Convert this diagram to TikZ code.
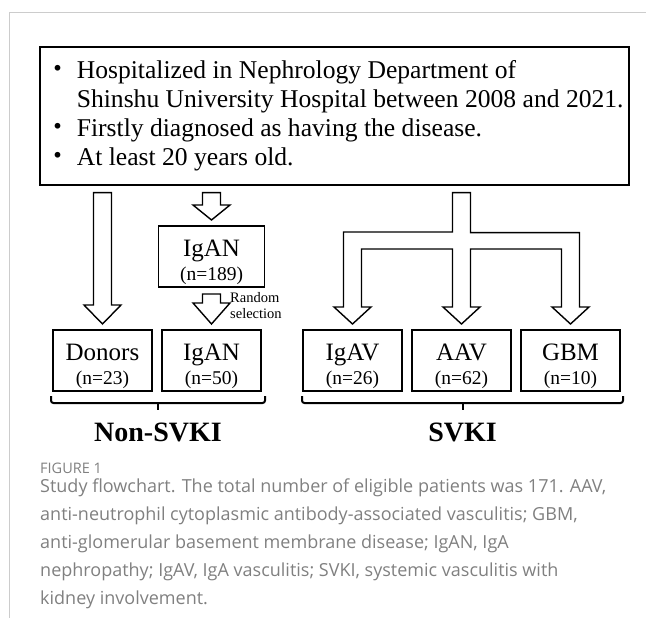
\documentclass[tikz,border=0pt]{standalone}
\usepackage{fontspec}
\setmainfont{Liberation Serif}
\newfontfamily\cjkfont{Noto Sans CJK JP}
\newfontfamily\capfont{Open Sans}
\usetikzlibrary{positioning,calc}
\definecolor{capgray}{HTML}{808080}
\definecolor{framegray}{HTML}{CCCCCC}
\newcommand{\dotmark}{\makebox[25pt][c]{\fontsize{27}{27}\cjkfont ・}}
\newcommand{\bigname}[1]{{\fontsize{25}{25}\selectfont\rule{0pt}{28pt}#1}}
\newcommand{\fatarrow}[3][19]{%
  \draw[hollow] ($(#2)+(-9,7)$) -- ($(#3)+(-9,-6-#1)$) -- ++(-9.5,0)
    -- ($(#3)+(0,-6)$) -- ($(#3)+(18.5,-6-#1)$) -- ++(-9.5,0)
    -- ($(#2)+(9,7)$) -- cycle;}
\tikzset{
    frame/.style={
            draw=framegray,
            line width=1pt
        },
    criteria/.style={
            rectangle,
            draw,
            line width=1.3pt,
            minimum width=589pt,
            minimum height=138pt,
            inner sep=0pt,
            align=left,
            font=\fontsize{25.6}{29}\selectfont
        },
    block/.style={
            rectangle,
            draw,
            line width=1.3pt,
            minimum width=99pt,
            minimum height=61pt,
            inner sep=0pt,
            outer sep=0pt,
            align=center,
            font=\fontsize{19.5}{24}\selectfont
        },
    hollow/.style={
            draw,
            fill=white,
            line width=1.4pt,
            line join=miter
        },
    brace/.style={
            draw,
            line width=2pt,
            rounded corners=2.5pt
        },
    group/.style={
            font=\fontsize{28}{30}\selectfont\bfseries,
            inner sep=0pt
        },
    note/.style={
            font=\fontsize{14.5}{16}\selectfont,
            align=left,
            inner sep=0pt
        },
    caption/.style={
            font=\capfont\fontsize{18}{28}\selectfont,
            text=capgray,
            align=left,
            inner sep=0pt
        }
}
\begin{document}
\begin{tikzpicture}[x=1pt,y=-1pt]
  \useasboundingbox (0,0) rectangle (646,618);
  \draw[frame] (9,618) -- (9,13) -- (646,13);

  \node[criteria] (crit) at (334.5,116) {\dotmark\ Hospitalized in Nephrology Department of\\
    \phantom{\dotmark}\ Shinshu University Hospital between 2008 and 2021.\\
    \dotmark\ Firstly diagnosed as having the disease.\\
    \dotmark\ At least 20 years old.};

  \node[block, minimum width=106pt] (iganall) at (211.5,256.5) {\bigname{IgAN}\\(n=189)};
  \node[block] (donors) at (102.5,360.5) {\bigname{Donors}\\(n=23)};
  \node[block, right=10pt of donors] (iganrand) {\bigname{IgAN}\\(n=50)};
  \node[block] (igav) at (352.5,360.5) {\bigname{IgAV}\\(n=26)};
  \node[block, right=10pt of igav] (aav) {\bigname{AAV}\\(n=62)};
  \node[block, right=10pt of aav] (gbm) {\bigname{GBM}\\(n=10)};
  \node[note, anchor=north west] (randsel) at (230,292) {Random\\selection};

  \fatarrow{crit.south -| donors}{donors.north}
  \fatarrow[15]{crit.south -| iganall}{iganall.north}
  \fatarrow[21]{iganall.south}{iganrand.north}
  \draw[hollow] ($(crit.south -| aav)+(-9,7)$) |- ($(igav.north)+(-9,-98)$)
    -- ($(igav.north)+(-9,-23)$) -- ++(-9.5,0) -- ($(igav.north)+(0,-6)$)
    -- ($(igav.north)+(18.5,-23)$) -- ++(-9.5,0) |- ($(aav.north)+(-9,-81)$)
    -- ($(aav.north)+(-9,-23)$) -- ++(-9.5,0) -- ($(aav.north)+(0,-6)$)
    -- ($(aav.north)+(18.5,-23)$) -- ++(-9.5,0) |- ($(gbm.north)+(-9,-81)$)
    -- ($(gbm.north)+(-9,-23)$) -- ++(-9.5,0) -- ($(gbm.north)+(0,-6)$)
    -- ($(gbm.north)+(18.5,-23)$) -- ++(-9.5,0) |- ($(crit.south -| aav)+(9,47)$)
    -- ($(crit.south -| aav)+(9,7)$) -- cycle;

  \draw[brace] ($(donors.south west)+(-2,5)$) |- ($(iganrand.south east)+(4,12)$) -- ++(0,-7);
  \coordinate (nontick) at ($(donors.south west)!0.5!(iganrand.south east)+(1,12)$);
  \draw[brace] (nontick) -- ++(0,7);
  \draw[brace] ($(igav.south west)+(-1,5)$) |- ($(gbm.south east)+(3,12)$) -- ++(0,-7);
  \coordinate (svtick) at ($(igav.south west)!0.5!(gbm.south east)+(1,12)$);
  \draw[brace] (svtick) -- ++(0,7);
  \node[group, anchor=base] (nonsvki) at ($(nontick)+(0,38)$) {Non-SVKI};
  \node[group, anchor=base] (svki) at ($(svtick)+(0,38)$) {SVKI};

  \node[caption, anchor=base west, font=\capfont\fontsize{14.5}{16}\selectfont] (figlabel) at (40,473) {FIGURE 1};
  \node[caption, anchor=north west] (captext) at (40,479) {Study flowchart. The total number of eligible patients was 171. AAV,\\
    anti-neutrophil cytoplasmic antibody-associated vasculitis; GBM,\\
    anti-glomerular basement membrane disease; IgAN, IgA\\
    nephropathy; IgAV, IgA vasculitis; SVKI, systemic vasculitis with\\
    kidney involvement.};
\end{tikzpicture}
\end{document}
